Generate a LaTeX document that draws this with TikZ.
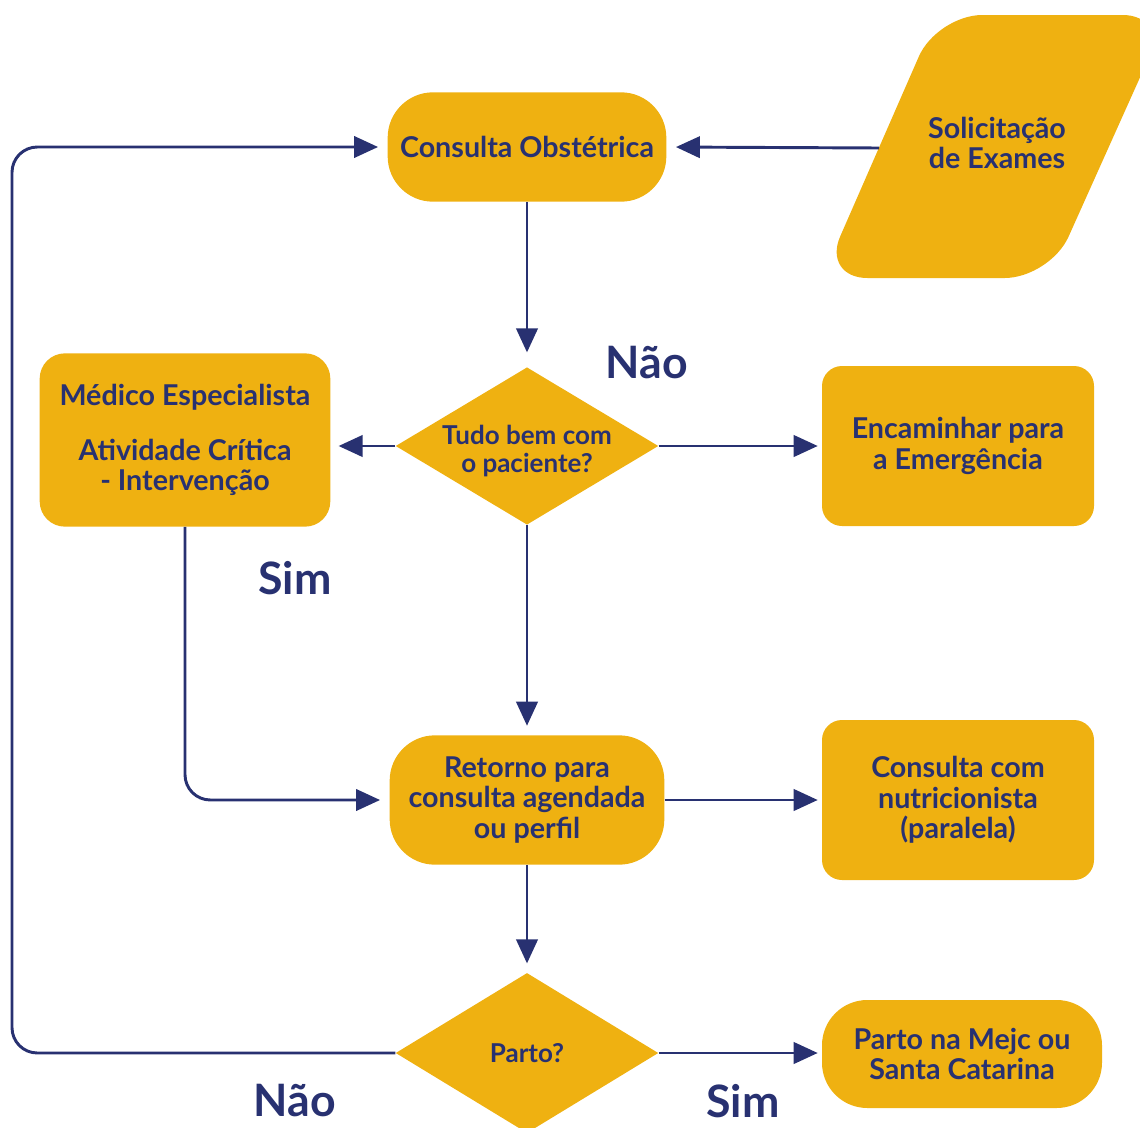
\documentclass[tikz,border=0pt]{standalone}
\usepackage{fontspec}
\setmainfont{Lato}
\usetikzlibrary{arrows.meta,shapes.geometric}

\definecolor{ouro}{HTML}{EFB111}
\definecolor{marinho}{HTML}{283171}

\begin{document}
\begin{tikzpicture}[x=0.75pt,y=-0.75pt,>={Triangle[length=18pt,width=16pt]},
  caixa/.style={fill=ouro,text=marinho,align=center,inner sep=0pt,
    font=\fontsize{21.5}{23}\selectfont\bfseries},
  losango/.style={diamond,fill=ouro,inner sep=0pt,
    minimum width=197pt,minimum height=118pt},
  dentro/.style={text=marinho,align=center,
    font=\fontsize{19.5}{21}\selectfont\bfseries},
  rotulo/.style={text=marinho,font=\fontsize{33.5}{38}\selectfont\bfseries},
  fluxo/.style={draw=marinho,line width=2.2pt,->,shorten >=7pt},
]

\useasboundingbox (0,0) rectangle (1140,1128);

% ------------------------------------------------------------------
% top row
% ------------------------------------------------------------------
\node[caixa,rounded corners=34pt,minimum width=209pt,minimum height=82pt]
  (cons) at (527,147) {Consulta Obstétrica};

\fill[ouro,rounded corners=34pt]
  (937,15) -- (1168,15) -- (1050,278) -- (822,278) -- cycle;
\node[caixa] (sol) at (997,143) {Solicitação\\de Exames};
\coordinate (solW) at (879,148);

% ------------------------------------------------------------------
% first decision
% ------------------------------------------------------------------
\node[losango,label={[dentro,yshift=-4pt]center:Tudo bem com\\o paciente?}]
  (tudo) at (527,446) {};

\node[caixa,rounded corners=19pt,minimum width=218pt,minimum height=130pt]
  (medico) at (185,440)
  {Médico Especialista\\[18pt]Atividade Crítica\\- Intervenção};

\node[caixa,rounded corners=15pt,minimum width=204pt,minimum height=120pt]
  (emerg) at (958,446) {Encaminhar para\\a Emergência};

\node[rotulo] (nao1) at (647,363) {Não};
\node[rotulo] (sim1) at (295,578) {Sim};

% ------------------------------------------------------------------
% return and second decision
% ------------------------------------------------------------------
\node[caixa,rounded corners=34pt,minimum width=206pt,minimum height=97pt]
  (retorno) at (527,800) {Retorno para\\consulta agendada\\ou perfil};

\node[caixa,rounded corners=15pt,minimum width=204pt,minimum height=120pt]
  (nutri) at (958,800) {Consulta com\\nutricionista\\(paralela)};

\node[losango,minimum height=120pt,label={[dentro]center:Parto?}]
  (parto) at (527,1053) {};

\node[caixa,rounded corners=34pt,minimum width=210pt,minimum height=81pt]
  (mejc) at (962,1054) {Parto na Mejc ou\\Santa Catarina};

\node[rotulo] (nao2) at (295,1101) {Não};
\node[rotulo] (sim2) at (743,1101) {Sim};

% ------------------------------------------------------------------
% connectors
% ------------------------------------------------------------------
\draw[fluxo] (solW) -- (cons.east);
\draw[fluxo,shorten >=11pt] (cons.south) -- (tudo.north);
\draw[fluxo,shorten >=6pt] (tudo.west) -- (tudo.west -| medico.east);
\draw[fluxo,shorten >=3pt] (tudo.east) -- (tudo.east -| emerg.west);
\draw[fluxo] (tudo.south) -- (retorno.north);
\draw[fluxo,rounded corners=19pt] (medico.south) |- (retorno.west);
\draw[fluxo,shorten >=3pt] (retorno.east) -- (nutri.west);
\draw[fluxo] (retorno.south) -- (parto.north);
\draw[fluxo,shorten >=3pt] (parto.east) -- (parto.east -| mejc.west);
\draw[fluxo,rounded corners=19pt] (parto.west) -| (12,600) |- (cons.west);

\end{tikzpicture}
\end{document}
